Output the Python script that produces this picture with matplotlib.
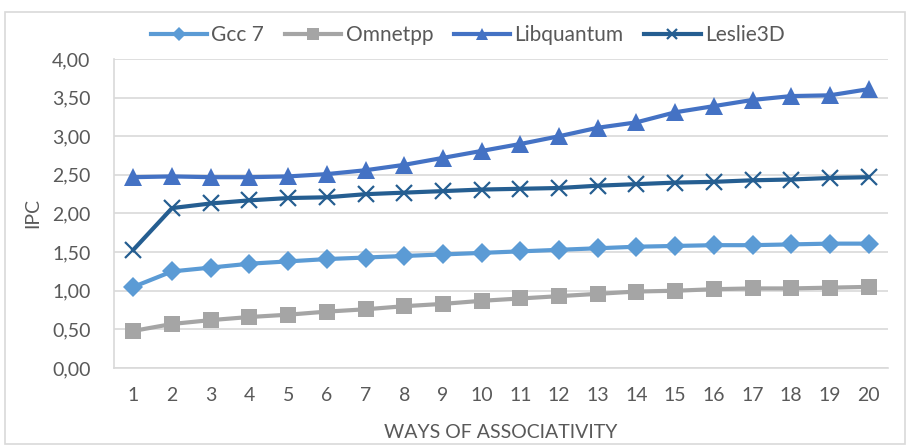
import matplotlib
matplotlib.use("Agg")
import matplotlib.pyplot as plt
from matplotlib.patches import Rectangle
from matplotlib.ticker import FuncFormatter

plt.rcParams['font.family'] = ['Lato', 'DejaVu Sans']

ways = list(range(1, 21))
gcc7 = [1.05, 1.25, 1.30, 1.35, 1.38, 1.41, 1.43, 1.45, 1.47, 1.49,
        1.51, 1.53, 1.55, 1.57, 1.58, 1.59, 1.59, 1.60, 1.61, 1.61]
omnetpp = [0.48, 0.57, 0.62, 0.66, 0.69, 0.73, 0.76, 0.80, 0.83, 0.87,
           0.90, 0.93, 0.96, 0.99, 1.00, 1.02, 1.03, 1.03, 1.04, 1.05]
libquantum = [2.47, 2.48, 2.47, 2.47, 2.48, 2.51, 2.56, 2.63, 2.72, 2.81,
              2.90, 3.00, 3.11, 3.18, 3.31, 3.39, 3.47, 3.52, 3.53, 3.61]
leslie3d = [1.53, 2.07, 2.13, 2.17, 2.20, 2.21, 2.25, 2.27, 2.29, 2.31,
            2.32, 2.33, 2.36, 2.38, 2.40, 2.41, 2.43, 2.44, 2.46, 2.47]
yticks = [0, 0.5, 1.0, 1.5, 2.0, 2.5, 3.0, 3.5, 4.0]

fig = plt.figure(figsize=(9.06, 4.45), dpi=100)
fig.patches.append(Rectangle((5/906, 1/445), 900/906, 432/445, transform=fig.transFigure,
                             fill=False, edgecolor='#D9D9D9', linewidth=1.2))
ax = fig.add_axes([114/906, 1-368/445, 774/906, 309/445])

txt = '#595959'
fs = 14
series = [
    ('Gcc 7', gcc7, '#5B9BD5', 'D', 10),
    ('Omnetpp', omnetpp, '#A5A5A5', 's', 12),
    ('Libquantum', libquantum, '#4472C4', '^', 13),
    ('Leslie3D', leslie3d, '#255E91', 'x', 11),
]
for name, vals, col, mk, ms in series:
    kw = dict(markeredgewidth=1.6) if mk == 'x' else dict(markeredgewidth=0)
    ax.plot(ways, vals, color=col, linewidth=3, marker=mk, markersize=ms,
            markerfacecolor=col, markeredgecolor=col, label=name, zorder=3, **kw)

ax.set_xlim(0.5, 20.5)
ax.set_ylim(0, 4.0)
ax.set_yticks(yticks)
ax.yaxis.set_major_formatter(FuncFormatter(lambda v, p: f"{v:.2f}".replace('.', ',')))
ax.set_xticks(ways)
ax.grid(axis='y', color='#D9D9D9', linewidth=1.2, zorder=0)
ax.set_axisbelow(True)
for s in ['top', 'right']:
    ax.spines[s].set_visible(False)
for s in ['left', 'bottom']:
    ax.spines[s].set_color('#D9D9D9')
    ax.spines[s].set_linewidth(1.2)
ax.tick_params(axis='both', length=0, labelsize=fs, colors=txt)
ax.tick_params(axis='x', pad=14)
ax.tick_params(axis='y', pad=17)
ax.set_ylabel('IPC', fontsize=fs, color=txt, labelpad=8)
ax.set_xlabel('WAYS OF ASSOCIATIVITY', fontsize=fs, color=txt, labelpad=14)

leg = ax.legend(loc='center', bbox_to_anchor=(0.457, 1.0 + 24/309), ncol=4, frameon=False,
                fontsize=15, labelcolor=txt, handlelength=2.7, columnspacing=1.0,
                handletextpad=0.2, borderaxespad=0, markerscale=0.7)

fig.savefig('out.png', dpi=100)
